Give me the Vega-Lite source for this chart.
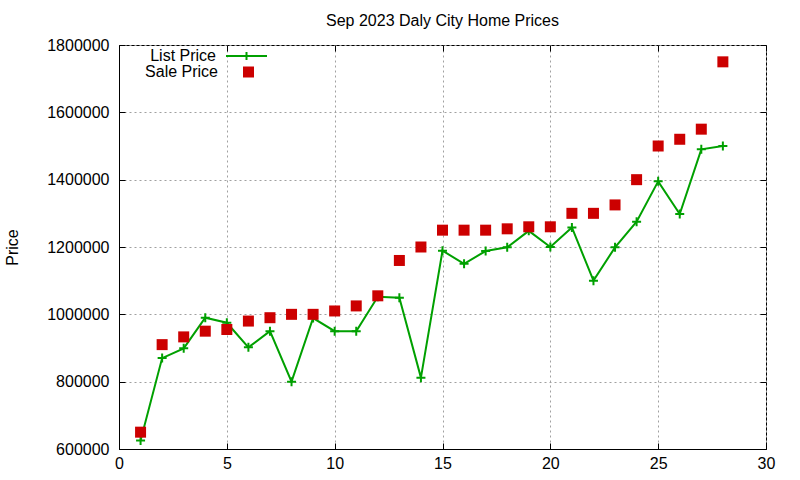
{
  "$schema": "https://vega.github.io/schema/vega-lite/v6.json",
  "description": "Sep 2023 Daly City home prices, list vs sale, gnuplot look",
  "autosize": {"type": "none"},
  "padding": {"left": 119, "top": 45, "right": 34, "bottom": 31},
  "width": 647,
  "height": 404,
  "background": "white",
  "config": {
    "view": {"stroke": "black", "strokeWidth": 1},
    "font": "Liberation Sans",
    "axis": {
      "labelFont": "Liberation Sans",
      "labelFontSize": 16,
      "labelColor": "black",
      "titleFont": "Liberation Sans",
      "titleFontSize": 16,
      "titleFontWeight": "normal",
      "titleColor": "black",
      "domainColor": "black",
      "tickColor": "black",
      "tickWidth": 1,
      "gridColor": "#a0a0a0",
      "gridDash": [2, 3],
      "gridWidth": 1
    },
    "legend": {
      "labelFont": "Liberation Sans",
      "labelFontSize": 16,
      "labelColor": "black",
      "padding": 0,
      "orient": "none"
    },
    "title": {
      "font": "Liberation Sans",
      "fontSize": 16,
      "fontWeight": "normal",
      "color": "black",
      "anchor": "middle",
      "offset": 6
    }
  },
  "title": "Sep 2023 Daly City Home Prices",
  "data": {
    "values": [
      {"day": 1, "list": 625000, "sale": 650000},
      {"day": 2, "list": 870000, "sale": 910000},
      {"day": 3, "list": 899000, "sale": 933000},
      {"day": 4, "list": 990000, "sale": 950000},
      {"day": 5, "list": 975000, "sale": 955000},
      {"day": 6, "list": 902000, "sale": 980000},
      {"day": 7, "list": 950000, "sale": 990000},
      {"day": 8, "list": 800000, "sale": 1000000},
      {"day": 9, "list": 989000, "sale": 1000000},
      {"day": 10, "list": 950000, "sale": 1010000},
      {"day": 11, "list": 950000, "sale": 1025000},
      {"day": 12, "list": 1052000, "sale": 1055000},
      {"day": 13, "list": 1049000, "sale": 1160000},
      {"day": 14, "list": 812000, "sale": 1200000},
      {"day": 15, "list": 1189000, "sale": 1250000},
      {"day": 16, "list": 1150000, "sale": 1250000},
      {"day": 17, "list": 1188000, "sale": 1250000},
      {"day": 18, "list": 1199000, "sale": 1254000},
      {"day": 19, "list": 1248000, "sale": 1260000},
      {"day": 20, "list": 1200000, "sale": 1260000},
      {"day": 21, "list": 1258000, "sale": 1300000},
      {"day": 22, "list": 1100000, "sale": 1300000},
      {"day": 23, "list": 1199000, "sale": 1325000},
      {"day": 24, "list": 1275000, "sale": 1400000},
      {"day": 25, "list": 1395000, "sale": 1500000},
      {"day": 26, "list": 1298000, "sale": 1520000},
      {"day": 27, "list": 1490000, "sale": 1550000},
      {"day": 28, "list": 1500000, "sale": 1750000}
    ]
  },
  "resolve": {"axis": {"x": "independent", "y": "independent"}},
  "layer": [
    {
      "mark": {"type": "line", "strokeWidth": 2},
      "encoding": {
        "x": {
          "field": "day",
          "type": "quantitative",
          "scale": {"domain": [0, 30], "nice": false},
          "axis": {
            "values": [0, 5, 10, 15, 20, 25, 30],
            "title": null,
            "grid": true,
            "tickSize": -6,
            "labelPadding": 12,
            "labelFlush": false
          }
        },
        "y": {
          "field": "list",
          "type": "quantitative",
          "scale": {"domain": [600000, 1800000], "nice": false, "zero": false},
          "axis": {
            "values": [600000, 800000, 1000000, 1200000, 1400000, 1600000, 1800000],
            "format": "d",
            "title": "Price",
            "grid": true,
            "tickSize": -6,
            "labelPadding": 16,
            "titlePadding": 26,
            "labelFlush": false
          }
        },
        "stroke": {
          "datum": "List Price",
          "scale": {"range": ["#00a000"]},
          "legend": {
            "title": null,
            "legendX": 106,
            "legendY": -10.5,
            "symbolType": "M-1,0H1M0,-0.2V0.2",
            "symbolSize": 1681,
            "symbolStrokeWidth": 2,
            "labelAlign": "right",
            "labelOffset": -52
          }
        }
      }
    },
    {
      "mark": {
        "type": "point",
        "shape": "M-1,0H1M0,-1V1",
        "filled": false,
        "size": 81,
        "strokeWidth": 2,
        "color": "#00a000",
        "opacity": 1
      },
      "encoding": {
        "x": {"field": "day", "type": "quantitative", "axis": null},
        "y": {"field": "list", "type": "quantitative", "axis": null}
      }
    },
    {
      "mark": {"type": "point", "shape": "square", "filled": true, "size": 121, "opacity": 1},
      "encoding": {
        "x": {
          "field": "day",
          "type": "quantitative",
          "axis": {
            "orient": "top",
            "values": [0, 5, 10, 15, 20, 25, 30],
            "labels": false,
            "domain": false,
            "grid": false,
            "title": null,
            "tickSize": -6
          }
        },
        "y": {
          "field": "sale",
          "type": "quantitative",
          "axis": {
            "orient": "right",
            "values": [600000, 800000, 1000000, 1200000, 1400000, 1600000, 1800000],
            "labels": false,
            "domain": false,
            "grid": false,
            "title": null,
            "tickSize": -6
          }
        },
        "fill": {
          "datum": "Sale Price",
          "scale": {"range": ["#cc0000"]},
          "legend": {
            "title": null,
            "legendX": 121.5,
            "legendY": 19,
            "symbolType": "square",
            "symbolSize": 121,
            "symbolStrokeWidth": 0,
            "labelAlign": "right",
            "labelOffset": -38.5
          }
        }
      }
    }
  ]
}
